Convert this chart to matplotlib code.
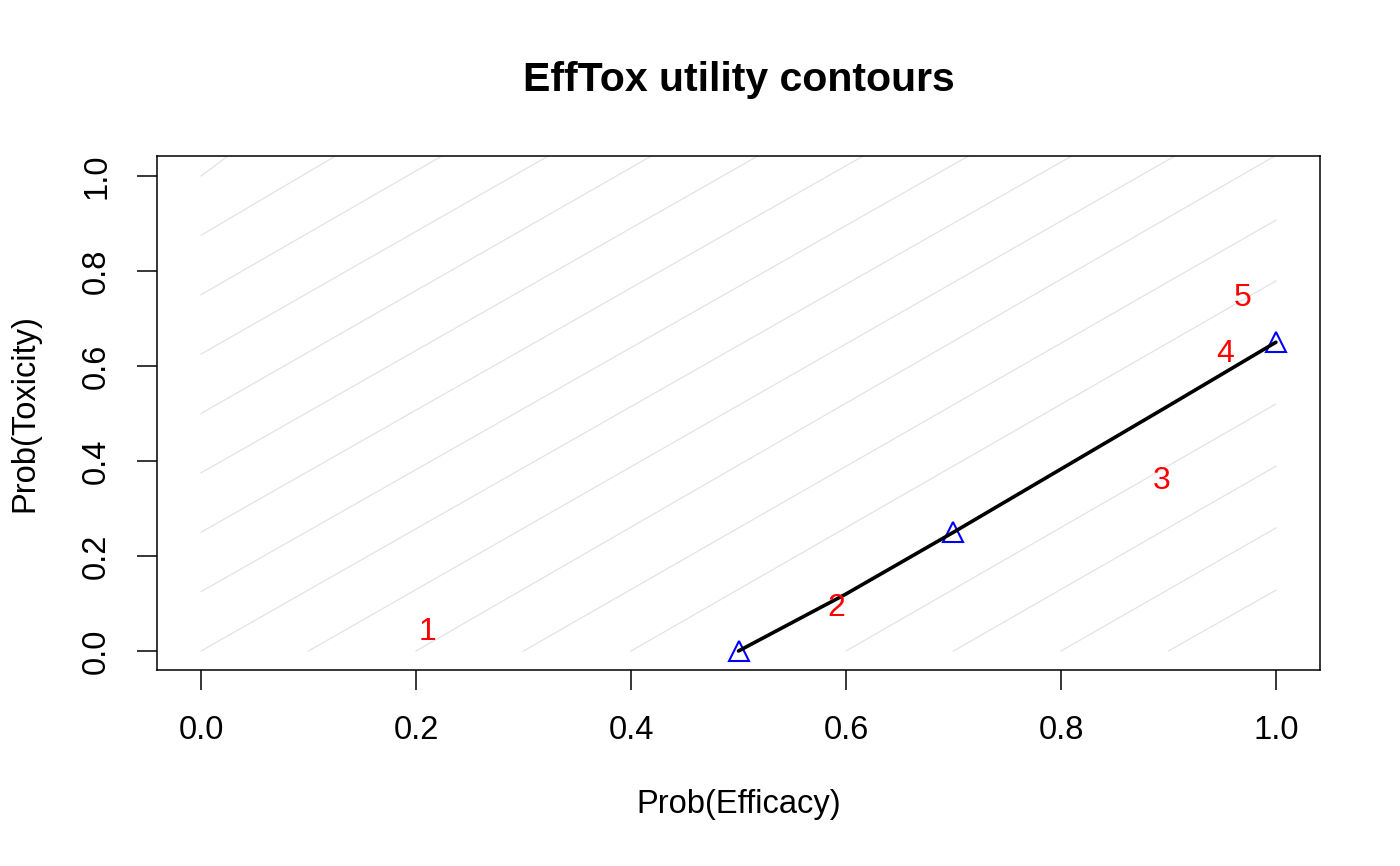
import matplotlib
matplotlib.use("Agg")
import matplotlib.pyplot as plt

plt.rcParams['font.family'] = ['Liberation Sans', 'DejaVu Sans']

# grey utility contours (start / end points)
grey_x0 = [0, 0, 0, 0, 0, 0, 0, 0, 0, 0.1, 0.2, 0.3, 0.4, 0.6, 0.7, 0.8, 0.9]
grey_y0 = [1.0, 0.875, 0.75, 0.625, 0.5, 0.375, 0.25, 0.125, 0.0,
           0, 0, 0, 0, 0, 0, 0, 0]
grey_x1 = [0.025, 0.125, 0.224, 0.323, 0.419, 0.518, 0.616, 0.714, 0.810,
           0.906, 0.999, 1.0, 1.0, 1.0, 1.0, 1.0, 1.0]
grey_y1 = [1.042] * 11 + [0.907, 0.779, 0.52, 0.389, 0.259, 0.128]

# neutral contour through the hinge points
neutral_eff = [0.5, 0.6, 0.7, 0.8, 0.9, 1.0]
neutral_tox = [0.0, 0.12, 0.25, 0.383, 0.516, 0.65]

hinge_eff = [0.5, 0.7, 1.0]
hinge_tox = [0.0, 0.25, 0.65]

# dose labels
dose_labels = ["1", "2", "3", "4", "5"]
dose_eff = [0.211, 0.591, 0.894, 0.953, 0.969]
dose_tox = [0.040, 0.090, 0.358, 0.625, 0.743]

fig = plt.figure(figsize=(14, 8.66), dpi=100)
ax = fig.add_axes([157 / 1400, 1 - 670 / 866, 1163 / 1400, 514 / 866])

for x0, y0, x1, y1 in zip(grey_x0, grey_y0, grey_x1, grey_y1):
    ax.plot([x0, x1], [y0, y1], color="#e3e3e3", lw=0.9)

ax.plot(hinge_eff, hinge_tox, linestyle="none", marker="^", ms=14,
        mfc="none", mec="blue", mew=1.5)
ax.plot(neutral_eff, neutral_tox, color="black", lw=2.6,
        solid_capstyle="round")

for lab, x, y in zip(dose_labels, dose_eff, dose_tox):
    ax.text(x, y, lab, color="red", fontsize=23, ha="center", va="center")

ax.set_xlim(-0.041, 1.041)
ax.set_ylim(-0.040, 1.042)
ticks = [0.0, 0.2, 0.4, 0.6, 0.8, 1.0]
ax.set_xticks(ticks)
ax.set_yticks(ticks)
ax.set_xticklabels(["%.1f" % t for t in ticks])
ax.set_yticklabels(["%.1f" % t for t in ticks], rotation=90, va="center")
ax.tick_params(length=14.4, width=1.1, pad=18, labelsize=23.5)
for s in ax.spines.values():
    s.set_linewidth(1.1)

ax.set_xlabel("Prob(Efficacy)", fontsize=23.5)
ax.xaxis.set_label_coords(0.5, (670 - 805) / 514)
ax.xaxis.label.set_va("center")
ax.set_ylabel("Prob(Toxicity)", fontsize=23.5)
ax.yaxis.set_label_coords((25 - 157) / 1163, 0.5)
ax.yaxis.label.set_va("center")

# title centred over the plot region, as R does
ax.text(0.5, (670 - 80) / 514, "EffTox utility contours", transform=ax.transAxes,
        ha="center", va="center", fontsize=29.5, fontweight="bold")

fig.savefig("out.png", dpi=100)
